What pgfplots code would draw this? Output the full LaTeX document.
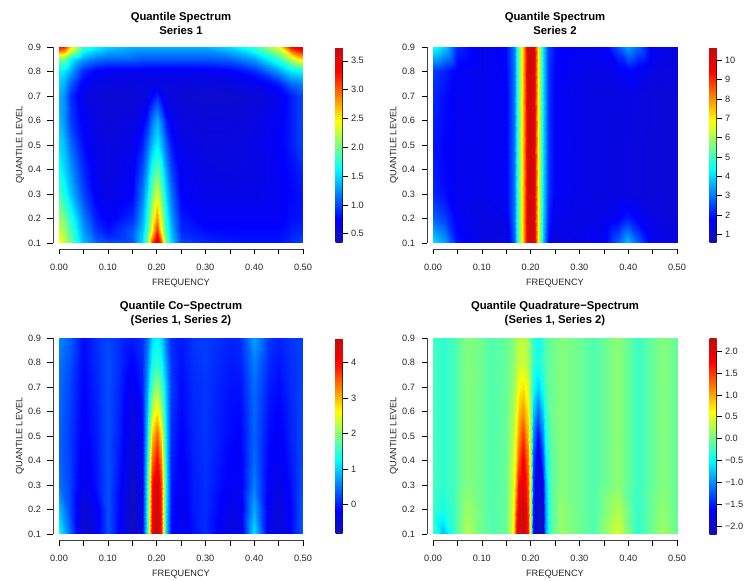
\documentclass[border=0pt]{standalone}
\usepackage{fontspec}
\setmainfont{Liberation Sans}
\usepackage{pgfplots}
\pgfplotsset{compat=1.18}
\pgfplotsset{
  colormap={rjet}{rgb=(.07,.07,.68) rgb=(0,0,1) rgb=(0,.5,1) rgb=(0,1,1) rgb=(.5,1,.5) rgb=(1,1,0) rgb=(1,.5,0) rgb=(1,0,0) rgb=(.75,.05,.05)},
  % axis box is 6pt larger than the image on the left and below, so the ticks stand off it
  panel/.style={
    scale only axis,width=250pt,height=202pt,anchor=south west,clip=false,
    xmin=-.0123,xmax=.5,ymin=.0755,ymax=.9,
    axis x line=bottom,axis y line=left,
    axis line style={draw=none},
    tick style={black,line width=.6pt},tick align=outside,major tick length=5.5pt,
    xtick={0,.05,...,.5},xticklabels={0.00,,0.10,,0.20,,0.30,,0.40,,0.50},
    ytick={.1,.2,...,.9},yticklabels={0.1,0.2,0.3,0.4,0.5,0.6,0.7,0.8,0.9},
    tick label style={font=\fontsize{9.2}{11}\selectfont,text=black!85},
    xticklabel style={yshift=-6pt},yticklabel style={xshift=-3pt},
    xlabel={FREQUENCY},ylabel={QUANTILE LEVEL},
    label style={font=\fontsize{9.2}{11}\selectfont,text=black!85},
    xlabel style={at={(.512,0)},anchor=center,yshift=-34pt},
    ylabel style={at={(0,.515)},anchor=center,yshift=33pt},
    title style={at={(.512,1)},anchor=south,align=center,yshift=3pt,
      font=\fontsize{11.3}{13.5}\selectfont\bfseries},
    colormap name=rjet,colorbar,
    execute at end axis={
      \draw[black!75,line width=.7pt] (axis cs:0,.0755) -- (axis cs:.5,.0755);
      \draw[black!75,line width=.7pt] (axis cs:-.0123,.1) -- (axis cs:-.0123,.9);
    },
  },
  cb/.style n args={4}{colorbar style={
    at={(parent axis.north east)},anchor=north west,xshift=24pt,width=7pt,height=196pt,
    ytick={#1},yticklabels={#2},ytick pos=right,yticklabel pos=right,
    axis line style={draw=none},tick align=outside,major tick length=5pt,
    tick style={black,line width=.6pt},
    yticklabel style={font=\fontsize{9.2}{11}\selectfont,text=black!85},
    execute at end axis={\draw[black,line width=.6pt] (axis cs:1,#3) -- (axis cs:1,#4);},
  }},
  mgrid/.style n args={2}{surf,shader=interp,mesh/rows=#1,mesh/cols=#2},
  table/pts/.style={row sep=\\,header=false,x index=0,y index=1,meta index=2},
}
\begin{document}
\begin{tikzpicture}[x=1pt,y=1pt]
\useasboundingbox (0,0) rectangle (747,581);

\begin{axis}[panel,at={(53pt,332pt)},title={Quantile Spectrum\\Series 1},
  point meta min=.34,point meta max=3.74,
  cb={.5,1,1.5,2,2.5,3,3.5}{0.5,1.0,1.5,2.0,2.5,3.0,3.5}{.5}{3.5}]
\addplot[mgrid={12}{22},point meta=explicit] table[pts] {
0 .1 2.5\\.01 .1 2.3\\.025 .1 1.95\\.05 .1 1.4\\.075 .1 1.1\\.1 .1 1\\.15 .1 1.05\\.17 .1 1.5\\.18 .1 2\\.19 .1 3.1\\.2 .1 3.7\\.21 .1 3.1\\.22 .1 2\\.23 .1 1.5\\.25 .1 1\\.3 .1 .9\\.35 .1 .85\\.4 .1 .82\\.45 .1 .82\\.475 .1 .9\\.49 .1 .95\\.5 .1 1\\
0 .15 2.3\\.01 .15 2.15\\.025 .15 1.85\\.05 .15 1.3\\.075 .15 .95\\.1 .15 .82\\.15 .15 1.05\\.17 .15 1.4\\.18 .15 1.8\\.19 .15 2.5\\.2 .15 3.2\\.21 .15 2.5\\.22 .15 1.8\\.23 .15 1.4\\.25 .15 .9\\.3 .15 .8\\.35 .15 .78\\.4 .15 .78\\.45 .15 .78\\.475 .15 .85\\.49 .15 .88\\.5 .15 .9\\
0 .2 2.15\\.01 .2 2\\.025 .2 1.7\\.05 .2 1.2\\.075 .2 .85\\.1 .2 .72\\.15 .2 .9\\.17 .2 1.3\\.18 .2 1.7\\.19 .2 2.3\\.2 .2 2.8\\.21 .2 2.3\\.22 .2 1.7\\.23 .2 1.3\\.25 .2 .85\\.3 .2 .72\\.35 .2 .72\\.4 .2 .72\\.45 .2 .72\\.475 .2 .8\\.49 .2 .82\\.5 .2 .85\\
0 .3 1.85\\.01 .3 1.7\\.025 .3 1.4\\.05 .3 1\\.075 .3 .72\\.1 .3 .62\\.15 .3 .75\\.17 .3 1.15\\.18 .3 1.5\\.19 .3 2\\.2 .3 2.35\\.21 .3 2\\.22 .3 1.5\\.23 .3 1.15\\.25 .3 .75\\.3 .3 .65\\.35 .3 .65\\.4 .3 .65\\.45 .3 .72\\.475 .3 .78\\.49 .3 .8\\.5 .3 .85\\
0 .4 1.65\\.01 .4 1.5\\.025 .4 1.25\\.05 .4 .9\\.075 .4 .68\\.1 .4 .6\\.15 .4 .7\\.17 .4 1\\.18 .4 1.3\\.19 .4 1.7\\.2 .4 1.95\\.21 .4 1.7\\.22 .4 1.3\\.23 .4 1\\.25 .4 .7\\.3 .4 .62\\.35 .4 .6\\.4 .4 .62\\.45 .4 .72\\.475 .4 .8\\.49 .4 .85\\.5 .4 .9\\
0 .5 1.5\\.01 .5 1.4\\.025 .5 1.1\\.05 .5 .8\\.075 .5 .65\\.1 .5 .6\\.15 .5 .65\\.17 .5 .85\\.18 .5 1.1\\.19 .5 1.4\\.2 .5 1.6\\.21 .5 1.4\\.22 .5 1.1\\.23 .5 .85\\.25 .5 .65\\.3 .5 .6\\.35 .5 .6\\.4 .5 .62\\.45 .5 .75\\.475 .5 .85\\.49 .5 .95\\.5 .5 .98\\
0 .6 1.4\\.01 .6 1.25\\.025 .6 .95\\.05 .6 .72\\.075 .6 .62\\.1 .6 .58\\.15 .6 .6\\.17 .6 .7\\.18 .6 .85\\.19 .6 1.15\\.2 .6 1.35\\.21 .6 1.15\\.22 .6 .85\\.23 .6 .7\\.25 .6 .6\\.3 .6 .58\\.35 .6 .58\\.4 .6 .6\\.45 .6 .72\\.475 .6 .85\\.49 .6 .95\\.5 .6 1\\
0 .7 1.35\\.01 .7 1.25\\.025 .7 .9\\.05 .7 .65\\.075 .7 .58\\.1 .7 .55\\.15 .7 .55\\.17 .7 .58\\.18 .7 .62\\.19 .7 .75\\.2 .7 .9\\.21 .7 .75\\.22 .7 .62\\.23 .7 .58\\.25 .7 .55\\.3 .7 .52\\.35 .7 .52\\.4 .7 .55\\.45 .7 .68\\.475 .7 .85\\.49 .7 .95\\.5 .7 1\\
0 .75 1.45\\.01 .75 1.35\\.025 .75 1.05\\.05 .75 .72\\.075 .75 .62\\.1 .75 .6\\.15 .75 .6\\.17 .75 .6\\.18 .75 .6\\.19 .75 .6\\.2 .75 .6\\.21 .75 .6\\.22 .75 .6\\.23 .75 .6\\.25 .75 .6\\.3 .75 .58\\.35 .75 .6\\.4 .75 .65\\.45 .75 .85\\.475 .75 1.1\\.49 .75 1.15\\.5 .75 1.2\\
0 .8 1.6\\.01 .8 1.55\\.025 .8 1.3\\.05 .8 .9\\.075 .8 .75\\.1 .8 .7\\.15 .8 .7\\.17 .8 .7\\.18 .8 .7\\.19 .8 .7\\.2 .8 .7\\.21 .8 .7\\.22 .8 .7\\.23 .8 .7\\.25 .8 .7\\.3 .8 .7\\.35 .8 .75\\.4 .8 .9\\.45 .8 1.3\\.475 .8 1.55\\.49 .8 1.6\\.5 .8 1.65\\
0 .85 2\\.01 .85 2\\.025 .85 1.6\\.05 .85 1.3\\.075 .85 1.15\\.1 .85 1.1\\.15 .85 1.1\\.17 .85 1.05\\.18 .85 1.05\\.19 .85 1.05\\.2 .85 1.05\\.21 .85 1.05\\.22 .85 1.05\\.23 .85 1.05\\.25 .85 1.05\\.3 .85 1.05\\.35 .85 1.1\\.4 .85 1.3\\.45 .85 1.8\\.475 .85 2.2\\.49 .85 2.5\\.5 .85 2.6\\
0 .9 3.3\\.01 .9 3.2\\.025 .9 2.5\\.05 .9 1.8\\.075 .9 1.6\\.1 .9 1.45\\.15 .9 1.35\\.17 .9 1.35\\.18 .9 1.35\\.19 .9 1.35\\.2 .9 1.35\\.21 .9 1.35\\.22 .9 1.35\\.23 .9 1.35\\.25 .9 1.35\\.3 .9 1.35\\.35 .9 1.5\\.4 .9 1.8\\.45 .9 2.4\\.475 .9 3.3\\.49 .9 3.5\\.5 .9 3.6\\
};
\end{axis}

\begin{axis}[panel,at={(427pt,332pt)},title={Quantile Spectrum\\Series 2},
  point meta min=.54,point meta max=10.7,
  cb={1,2,3,4,5,6,7,8,9,10}{1,2,3,4,5,6,7,8,9,10}{1}{10}]
\addplot[mgrid={7}{24},point meta=explicit] table[pts] {
0 .1 4.1\\.025 .1 3.4\\.05 .1 2\\.1 .1 1.4\\.15 .1 1.3\\.165 .1 2.6\\.175 .1 5\\.185 .1 7.5\\.19 .1 9.2\\.195 .1 10.2\\.2 .1 10.6\\.205 .1 10.3\\.21 .1 9.4\\.215 .1 6.9\\.225 .1 3.8\\.235 .1 1.9\\.25 .1 1.3\\.3 .1 1.5\\.35 .1 1.7\\.38 .1 2.8\\.4 .1 3.7\\.42 .1 2.8\\.45 .1 1.6\\.5 .1 1.4\\
0 .2 2.8\\.025 .2 2.4\\.05 .2 1.7\\.1 .2 1.4\\.15 .2 1.5\\.165 .2 2.9\\.175 .2 5.1\\.185 .2 7.5\\.19 .2 9.2\\.195 .2 10.2\\.2 .2 10.6\\.205 .2 10.2\\.21 .2 9.3\\.215 .2 6.9\\.225 .2 4\\.235 .2 2.2\\.25 .2 1.5\\.3 .2 1.4\\.35 .2 1.45\\.38 .2 1.7\\.4 .2 2.1\\.42 .2 1.7\\.45 .2 1.35\\.5 .2 1.2\\
0 .3 2.2\\.025 .3 1.9\\.05 .3 1.6\\.1 .3 1.5\\.15 .3 1.7\\.165 .3 2.9\\.175 .3 5.1\\.185 .3 7.5\\.19 .3 9.2\\.195 .3 10.2\\.2 .3 10.6\\.205 .3 10.2\\.21 .3 9.3\\.215 .3 6.9\\.225 .3 4.1\\.235 .3 2.4\\.25 .3 1.7\\.3 .3 1.45\\.35 .3 1.35\\.38 .3 1.35\\.4 .3 1.35\\.42 .3 1.3\\.45 .3 1.25\\.5 .3 1.2\\
0 .5 2\\.025 .5 1.8\\.05 .5 1.6\\.1 .5 1.55\\.15 .5 1.7\\.165 .5 2.9\\.175 .5 5.1\\.185 .5 7.5\\.19 .5 9.2\\.195 .5 10.2\\.2 .5 10.6\\.205 .5 10.2\\.21 .5 9.3\\.215 .5 6.9\\.225 .5 4.1\\.235 .5 2.4\\.25 .5 1.7\\.3 .5 1.45\\.35 .5 1.35\\.38 .5 1.35\\.4 .5 1.35\\.42 .5 1.3\\.45 .5 1.25\\.5 .5 1.2\\
0 .7 2.2\\.025 .7 1.9\\.05 .7 1.6\\.1 .7 1.55\\.15 .7 1.7\\.165 .7 2.9\\.175 .7 5.1\\.185 .7 7.5\\.19 .7 9.2\\.195 .7 10.2\\.2 .7 10.6\\.205 .7 10.2\\.21 .7 9.3\\.215 .7 6.9\\.225 .7 4.1\\.235 .7 2.4\\.25 .7 1.7\\.3 .7 1.45\\.35 .7 1.35\\.38 .7 1.4\\.4 .7 1.4\\.42 .7 1.35\\.45 .7 1.25\\.5 .7 1.2\\
0 .8 2.4\\.025 .8 2.1\\.05 .8 1.7\\.1 .8 1.5\\.15 .8 1.8\\.165 .8 2.9\\.175 .8 5.1\\.185 .8 7.5\\.19 .8 9.2\\.195 .8 10.2\\.2 .8 10.6\\.205 .8 10.2\\.21 .8 9.3\\.215 .8 6.9\\.225 .8 4.1\\.235 .8 2.4\\.25 .8 1.8\\.3 .8 1.5\\.35 .8 1.45\\.38 .8 1.6\\.4 .8 1.8\\.42 .8 1.6\\.45 .8 1.35\\.5 .8 1.3\\
0 .9 4.5\\.025 .9 3.8\\.05 .9 2.2\\.1 .9 1.5\\.15 .9 1.9\\.165 .9 3\\.175 .9 5.1\\.185 .9 7.5\\.19 .9 9.2\\.195 .9 10.2\\.2 .9 10.6\\.205 .9 10.2\\.21 .9 9.3\\.215 .9 6.9\\.225 .9 4.1\\.235 .9 2.5\\.25 .9 1.9\\.3 .9 1.6\\.35 .9 1.7\\.38 .9 2.6\\.4 .9 3.4\\.42 .9 2.8\\.45 .9 1.6\\.5 .9 1.3\\
};
\end{axis}

\begin{axis}[panel,at={(53pt,41pt)},title={Quantile Co−Spectrum\\(Series 1, Series 2)},
  point meta min=-.82,point meta max=4.68,
  cb={0,1,2,3,4}{0,1,2,3,4}{0}{4}]
\addplot[mgrid={9}{24},point meta=explicit] table[pts] {
0 .1 1.3\\.02 .1 .5\\.05 .1 -.55\\.075 .1 -.3\\.1 .1 .3\\.125 .1 -.2\\.15 .1 -.7\\.17 .1 -.3\\.18 .1 1.4\\.19 .1 4.2\\.2 .1 4.65\\.21 .1 3.9\\.22 .1 1\\.23 .1 -.1\\.25 .1 -.3\\.275 .1 -.05\\.3 .1 .1\\.35 .1 -.4\\.37 .1 -.4\\.4 .1 1.1\\.43 .1 -.3\\.45 .1 -.5\\.475 .1 -.1\\.5 .1 .4\\
0 .2 .9\\.02 .2 .3\\.05 .2 -.5\\.075 .2 -.25\\.1 .2 .3\\.125 .2 -.15\\.15 .2 -.65\\.17 .2 -.3\\.18 .2 1.35\\.19 .2 4\\.2 .2 4.6\\.21 .2 3.8\\.22 .2 1.1\\.23 .2 -.05\\.25 .2 -.3\\.275 .2 0\\.3 .2 .1\\.35 .2 -.3\\.37 .2 -.3\\.4 .2 .8\\.43 .2 -.25\\.45 .2 -.45\\.475 .2 -.1\\.5 .2 .35\\
0 .3 .5\\.02 .3 .25\\.05 .3 -.3\\.075 .3 -.05\\.1 .3 .3\\.125 .3 -.1\\.15 .3 -.6\\.17 .3 -.3\\.18 .3 1.3\\.19 .3 3.9\\.2 .3 4.5\\.21 .3 3.7\\.22 .3 1.2\\.23 .3 0\\.25 .3 -.25\\.275 .3 0\\.3 .3 .12\\.35 .3 -.2\\.37 .3 -.25\\.4 .3 .55\\.43 .3 -.2\\.45 .3 -.35\\.475 .3 -.05\\.5 .3 .3\\
0 .4 .42\\.02 .4 .22\\.05 .4 -.25\\.075 .4 -.02\\.1 .4 .3\\.125 .4 -.05\\.15 .4 -.5\\.17 .4 -.25\\.18 .4 1.15\\.19 .4 3.4\\.2 .4 4\\.21 .4 3.3\\.22 .4 1.15\\.23 .4 .05\\.25 .4 -.2\\.275 .4 .02\\.3 .4 .13\\.35 .4 -.15\\.37 .4 -.2\\.4 .4 .45\\.43 .4 -.15\\.45 .4 -.25\\.475 .4 0\\.5 .4 .27\\
0 .5 .4\\.02 .5 .2\\.05 .5 -.2\\.075 .5 0\\.1 .5 .28\\.125 .5 0\\.15 .5 -.45\\.17 .5 -.2\\.18 .5 1\\.19 .5 2.9\\.2 .5 3.5\\.21 .5 2.8\\.22 .5 1.1\\.23 .5 .1\\.25 .5 -.15\\.275 .5 .05\\.3 .5 .15\\.35 .5 -.1\\.37 .5 -.15\\.4 .5 .4\\.43 .5 -.1\\.45 .5 -.2\\.475 .5 .05\\.5 .5 .25\\
0 .6 .42\\.02 .6 .22\\.05 .6 -.17\\.075 .6 .02\\.1 .6 .28\\.125 .6 .02\\.15 .6 -.38\\.17 .6 -.1\\.18 .6 .85\\.19 .6 2.25\\.2 .6 2.7\\.21 .6 2.2\\.22 .6 1\\.23 .6 .15\\.25 .6 -.12\\.275 .6 .07\\.3 .6 .15\\.35 .6 -.08\\.37 .6 -.1\\.4 .6 .42\\.43 .6 -.05\\.45 .6 -.15\\.475 .6 .07\\.5 .6 .25\\
0 .7 .45\\.02 .7 .25\\.05 .7 -.15\\.075 .7 .05\\.1 .7 .28\\.125 .7 .05\\.15 .7 -.3\\.17 .7 0\\.18 .7 .7\\.19 .7 1.7\\.2 .7 2.1\\.21 .7 1.7\\.22 .7 .9\\.23 .7 .2\\.25 .7 -.1\\.275 .7 .08\\.3 .7 .15\\.35 .7 -.05\\.37 .7 -.05\\.4 .7 .45\\.43 .7 0\\.45 .7 -.1\\.475 .7 .1\\.5 .7 .22\\
0 .8 .5\\.02 .8 .3\\.05 .8 -.12\\.075 .8 .08\\.1 .8 .28\\.125 .8 .08\\.15 .8 -.15\\.17 .8 .05\\.18 .8 .55\\.19 .8 1.3\\.2 .8 1.5\\.21 .8 1.3\\.22 .8 .7\\.23 .8 .15\\.25 .8 -.05\\.275 .8 .12\\.3 .8 .18\\.35 .8 0\\.37 .8 .02\\.4 .8 .55\\.43 .8 .08\\.45 .8 -.03\\.475 .8 .12\\.5 .8 .2\\
0 .9 .6\\.02 .9 .4\\.05 .9 -.1\\.075 .9 .1\\.1 .9 .25\\.125 .9 .1\\.15 .9 0\\.17 .9 .1\\.18 .9 .4\\.19 .9 1.05\\.2 .9 1.2\\.21 .9 1.05\\.22 .9 .5\\.23 .9 .1\\.25 .9 0\\.275 .9 .15\\.3 .9 .2\\.35 .9 .05\\.37 .9 .1\\.4 .9 .75\\.43 .9 .15\\.45 .9 .05\\.475 .9 .15\\.5 .9 .2\\
};
\end{axis}

\begin{axis}[panel,at={(427pt,41pt)},title={Quantile Quadrature−Spectrum\\(Series 1, Series 2)},
  point meta min=-2.18,point meta max=2.3,
  cb={-2,-1.5,-1,-.5,0,.5,1,1.5,2}{−2.0,−1.5,−1.0,−0.5,0.0,0.5,1.0,1.5,2.0}{-2}{2}]
\addplot[mgrid={9}{26},point meta=explicit] table[pts] {
0 .1 -.2\\.02 .1 -.8\\.04 .1 -.3\\.07 .1 .3\\.1 .1 -.02\\.12 .1 -.15\\.15 .1 -.05\\.16 .1 .4\\.165 .1 .8\\.17 .1 1.7\\.175 .1 2.1\\.185 .1 2.25\\.195 .1 1.6\\.2 .1 -.1\\.205 .1 -1.6\\.215 .1 -2.15\\.225 .1 -1.9\\.23 .1 -1\\.24 .1 -.2\\.26 .1 .18\\.3 .1 -.02\\.33 .1 -.15\\.38 .1 .45\\.42 .1 -.3\\.47 .1 .2\\.5 .1 -.05\\
0 .2 -.25\\.02 .2 -.4\\.04 .2 -.25\\.07 .2 .2\\.1 .2 -.02\\.12 .2 -.15\\.15 .2 -.05\\.16 .2 .35\\.165 .2 .7\\.17 .2 1.4\\.175 .2 1.9\\.185 .2 2.2\\.195 .2 1.5\\.2 .2 -.1\\.205 .2 -1.5\\.215 .2 -2.1\\.225 .2 -1.8\\.23 .2 -1\\.24 .2 -.2\\.26 .2 .15\\.3 .2 -.02\\.33 .2 -.15\\.38 .2 .28\\.42 .2 -.28\\.47 .2 .14\\.5 .2 -.05\\
0 .3 -.2\\.02 .3 -.3\\.04 .3 -.2\\.07 .3 .08\\.1 .3 -.02\\.12 .3 -.15\\.15 .3 -.05\\.16 .3 .3\\.165 .3 .6\\.17 .3 1\\.175 .3 1.7\\.185 .3 2\\.195 .3 1.4\\.2 .3 0\\.205 .3 -1.4\\.215 .3 -2\\.225 .3 -1.6\\.23 .3 -.9\\.24 .3 -.15\\.26 .3 .08\\.3 .3 -.02\\.33 .3 -.15\\.38 .3 .12\\.42 .3 -.25\\.47 .3 .08\\.5 .3 -.05\\
0 .4 -.2\\.02 .4 -.3\\.04 .4 -.2\\.07 .4 .08\\.1 .4 -.02\\.12 .4 -.15\\.15 .4 -.05\\.16 .4 .25\\.165 .4 .5\\.17 .4 .8\\.175 .4 1.3\\.185 .4 1.85\\.195 .4 1.2\\.2 .4 0\\.205 .4 -1.3\\.215 .4 -1.9\\.225 .4 -1.3\\.23 .4 -.7\\.24 .4 -.15\\.26 .4 .08\\.3 .4 -.02\\.33 .4 -.15\\.38 .4 .12\\.42 .4 -.25\\.47 .4 .08\\.5 .4 -.05\\
0 .5 -.2\\.02 .5 -.3\\.04 .5 -.2\\.07 .5 .08\\.1 .5 -.02\\.12 .5 -.15\\.15 .5 -.05\\.16 .5 .2\\.165 .5 .4\\.17 .5 .65\\.175 .5 1\\.185 .5 1.5\\.195 .5 .9\\.2 .5 0\\.205 .5 -1\\.215 .5 -1.6\\.225 .5 -1\\.23 .5 -.5\\.24 .5 -.1\\.26 .5 .08\\.3 .5 -.02\\.33 .5 -.15\\.38 .5 .12\\.42 .5 -.25\\.47 .5 .08\\.5 .5 -.05\\
0 .6 -.2\\.02 .6 -.3\\.04 .6 -.2\\.07 .6 .08\\.1 .6 -.02\\.12 .6 -.15\\.15 .6 -.05\\.16 .6 .15\\.165 .6 .3\\.17 .6 .5\\.175 .6 .8\\.185 .6 1.1\\.195 .6 .7\\.2 .6 0\\.205 .6 -.7\\.215 .6 -1.15\\.225 .6 -.7\\.23 .6 -.35\\.24 .6 -.05\\.26 .6 .08\\.3 .6 -.02\\.33 .6 -.15\\.38 .6 .12\\.42 .6 -.25\\.47 .6 .08\\.5 .6 -.05\\
0 .7 -.2\\.02 .7 -.3\\.04 .7 -.2\\.07 .7 .08\\.1 .7 -.02\\.12 .7 -.15\\.15 .7 -.05\\.16 .7 .08\\.165 .7 .2\\.17 .7 .35\\.175 .7 .55\\.185 .7 .75\\.195 .7 .45\\.2 .7 0\\.205 .7 -.4\\.215 .7 -.7\\.225 .7 -.4\\.23 .7 -.2\\.24 .7 -.05\\.26 .7 .08\\.3 .7 -.02\\.33 .7 -.15\\.38 .7 .12\\.42 .7 -.25\\.47 .7 .08\\.5 .7 -.05\\
0 .8 -.2\\.02 .8 -.3\\.04 .8 -.2\\.07 .8 .08\\.1 .8 -.02\\.12 .8 -.15\\.15 .8 -.05\\.16 .8 .05\\.165 .8 .12\\.17 .8 .25\\.175 .8 .35\\.185 .8 .42\\.195 .8 .25\\.2 .8 -.05\\.205 .8 -.25\\.215 .8 -.4\\.225 .8 -.25\\.23 .8 -.15\\.24 .8 -.05\\.26 .8 .08\\.3 .8 -.02\\.33 .8 -.15\\.38 .8 .12\\.42 .8 -.25\\.47 .8 .08\\.5 .8 -.05\\
0 .9 -.2\\.02 .9 -.3\\.04 .9 -.2\\.07 .9 .08\\.1 .9 -.02\\.12 .9 -.15\\.15 .9 -.05\\.16 .9 .05\\.165 .9 .12\\.17 .9 .2\\.175 .9 .3\\.185 .9 .35\\.195 .9 .2\\.2 .9 -.1\\.205 .9 -.3\\.215 .9 -.45\\.225 .9 -.3\\.23 .9 -.15\\.24 .9 -.05\\.26 .9 .08\\.3 .9 -.02\\.33 .9 -.15\\.38 .9 .12\\.42 .9 -.25\\.47 .9 .08\\.5 .9 -.05\\
};
\end{axis}
\end{tikzpicture}
\end{document}
